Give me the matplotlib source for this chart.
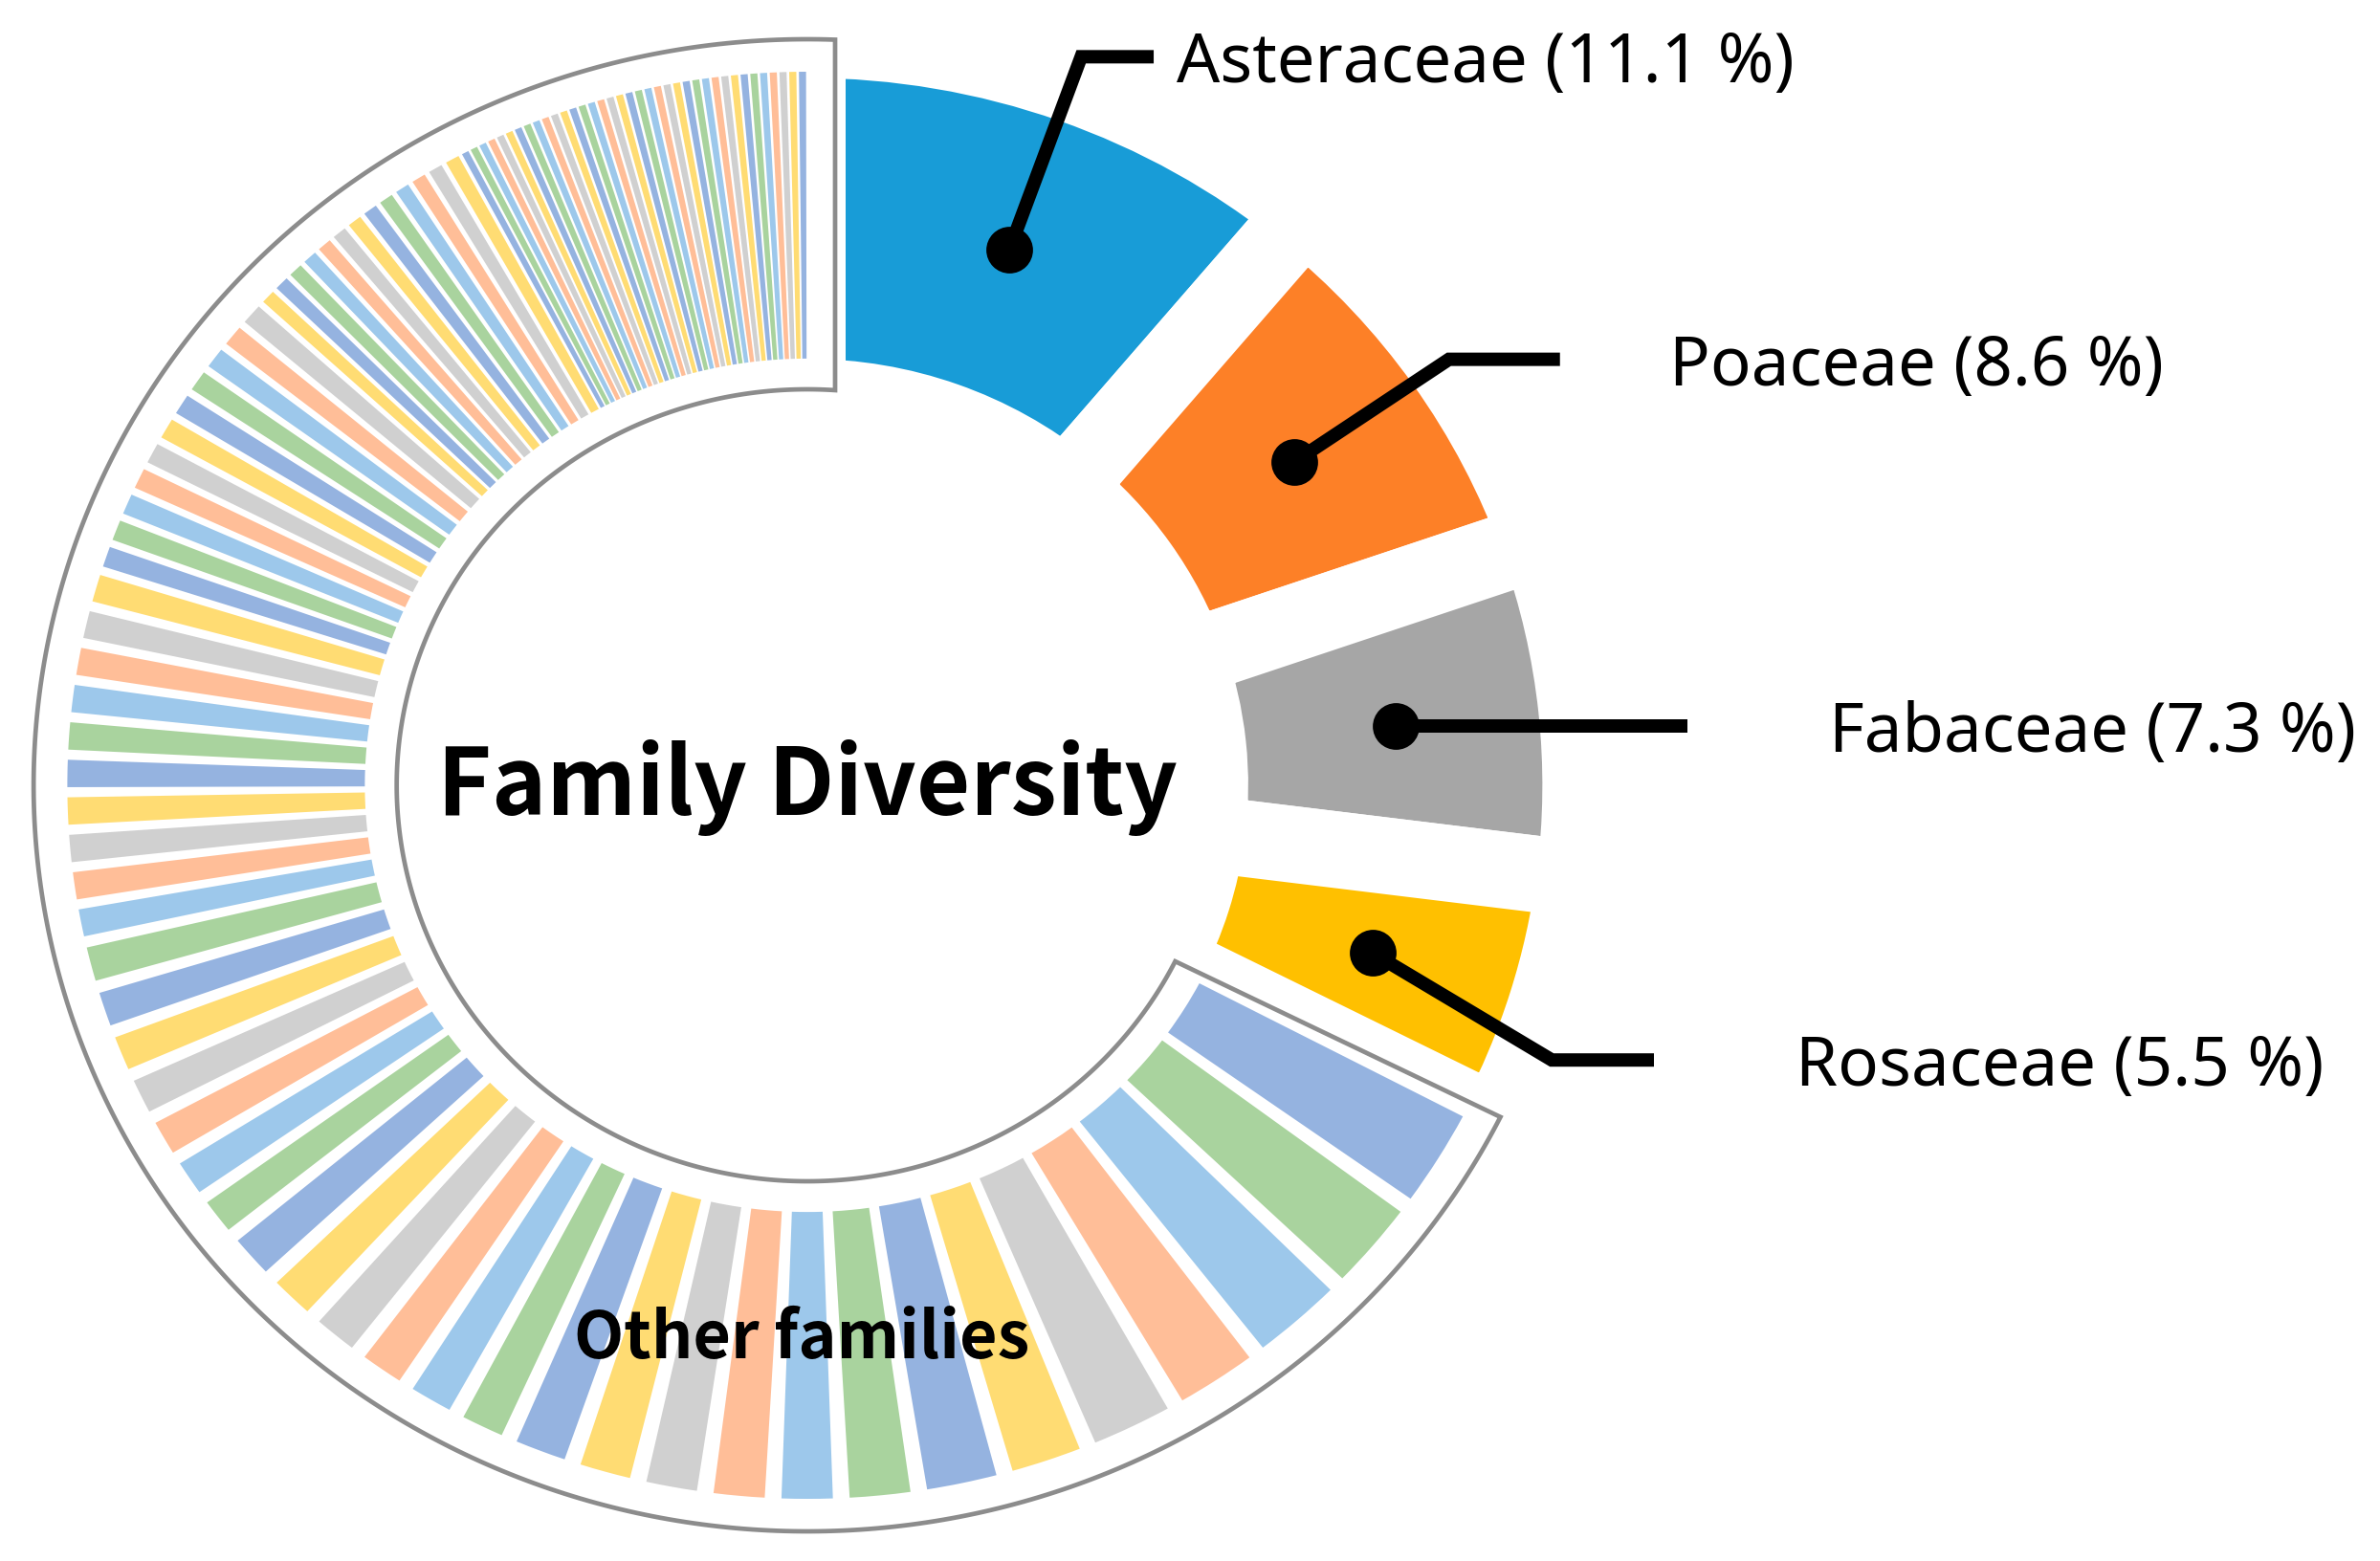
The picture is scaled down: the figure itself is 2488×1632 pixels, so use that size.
import numpy as np
import matplotlib.pyplot as plt
from matplotlib.patches import Wedge, Polygon

# main families (percent of species)
families = ["Asteraceae", "Poaceae", "Fabaceae", "Rosaceae"]
family_pct = [11.1, 8.6, 7.3, 5.5]
family_colors = ["#189CD7", "#FD8027", "#A6A6A6", "#FFC000"]

# remaining families, species per family, largest first
other_counts = [12, 11, 11, 10, 10, 9, 9, 8, 7,
                7, 7, 7, 7, 6, 6, 6, 6, 6, 6, 5, 5, 5, 5, 5, 5, 5, 4, 4, 4, 4,
                4,
                4, 4, 4, 4, 4,
                3, 3, 3, 3, 3, 3, 3, 3, 3, 3, 3,
                2, 2, 2, 2, 2, 2, 2, 2, 2, 2, 2, 2, 2,
                1, 1, 1, 1, 1, 1, 1, 1, 1, 1, 1, 1, 1, 1, 1, 1, 1, 1, 1, 1,
                1, 1, 1, 1, 1, 1, 1, 1, 1, 1, 1, 1, 1, 1, 1, 1, 1]
other_colors = ["#95B3E0", "#A9D39E", "#9DC8EB", "#FFBE98", "#D0D0D0", "#FFDC73"]

# label layout (data units, radius of ring = 1)
elbow_x = [0.370, 0.867, None, 1.006]
line_y = [1.021, 0.597, None, -0.385]
end_x = [0.468, 1.017, 1.189, 1.144]
text_x = [0.499, 1.165, 1.381, 1.335]

W, H, DPI = 2488, 1632, 200
fig = plt.figure(figsize=(W / DPI, H / DPI), dpi=DPI)
ax = fig.add_axes([0, 0, 1, 1])
ax.set_axis_off()

# pixel scale: 746 px per unit vertically, slightly stretched horizontally
sy = 746.0
sx = 746.0 * 1.037
cx, cy = 844, 821
ax.set_xlim(-cx / sx, (W - cx) / sx)
ax.set_ylim(-(H - cy) / sy, cy / sy)

r_out, r_in = 1.0, 0.598
inset = 40  # px of white between the big slices
pt = 72.0 / DPI

# big slices, clockwise from 12 o'clock
bounds = 90 - np.concatenate([[0], np.cumsum(family_pct)]) * 3.6
d = 38 / sy
for i in range(len(families)):
    ro_w = r_out - 0.006 + d
    ri_w = r_in - 0.003 - d
    w = Wedge((0, 0), ro_w, bounds[i + 1], bounds[i], width=ro_w - ri_w,
              facecolor=family_colors[i], edgecolor="white",
              linewidth=2 * inset * pt, joinstyle="miter", zorder=2)
    ax.add_patch(w)

# other families fill the rest of the circle
rest = 100 - sum(family_pct)
other_deg = np.array(other_counts) / sum(other_counts) * rest * 3.6
start = bounds[-1]
for i, span in enumerate(other_deg):
    gap = min(0.27 * span, 1.3)
    t_hi = start - gap / 2
    t_lo = start - span + gap / 2
    ax.add_patch(Wedge((0, 0), r_out, t_lo, t_hi, width=r_out - r_in,
                       facecolor=other_colors[i % len(other_colors)],
                       edgecolor="none", zorder=3))
    start -= span

# grey frame around the other families
ro, ri = 780 / sy, 414 / sy
xoff = 29 / sx
t_end = bounds[-1] + 0.6 + 360
to_top = np.degrees(np.arccos(xoff / ro))
ti_top = np.degrees(np.arccos(xoff / ri))
t1 = np.radians(np.linspace(to_top, t_end, 400))
t2 = np.radians(np.linspace(t_end, ti_top, 400))
px = np.concatenate([ro * np.cos(t1), ri * np.cos(t2)])
py = np.concatenate([ro * np.sin(t1), ri * np.sin(t2)])
ax.add_patch(Polygon(np.column_stack([px, py]), closed=True, fill=False,
                     edgecolor="#8C8C8C", linewidth=1.7, joinstyle="miter",
                     zorder=4))

# leader lines and labels
rm = (r_out + r_in) / 2
for i, name in enumerate(families):
    mid = np.radians((bounds[i] + bounds[i + 1]) / 2)
    dx, dy = rm * np.cos(mid), rm * np.sin(mid)
    ly = dy if line_y[i] is None else line_y[i]
    ex = dx if elbow_x[i] is None else elbow_x[i]
    ax.plot([dx, ex, end_x[i]], [dy, ly, ly], color="black",
            linewidth=14 * pt, solid_joinstyle="miter", solid_capstyle="butt",
            zorder=5)
    ax.plot(dx, dy, "o", color="black", markersize=46 * pt, zorder=6)
    ax.text(text_x[i], ly - 27 / sy, f"{name} ({family_pct[i]} %)",
            fontsize=25.5, family="Noto Sans", va="baseline", ha="left",
            color="black", zorder=6)

bold_font = ["Noto Sans CJK KR", "DejaVu Sans"]
ax.text(0.0, -0.042, "Family Diversity", fontsize=35, fontweight="bold",
        family=bold_font, ha="center", va="baseline", zorder=6)
ax.text(-0.008, -0.803, "Other families", fontsize=24.5, fontweight="bold",
        family=bold_font, ha="center", va="baseline", zorder=6)

fig.savefig("out.png", dpi=DPI)
